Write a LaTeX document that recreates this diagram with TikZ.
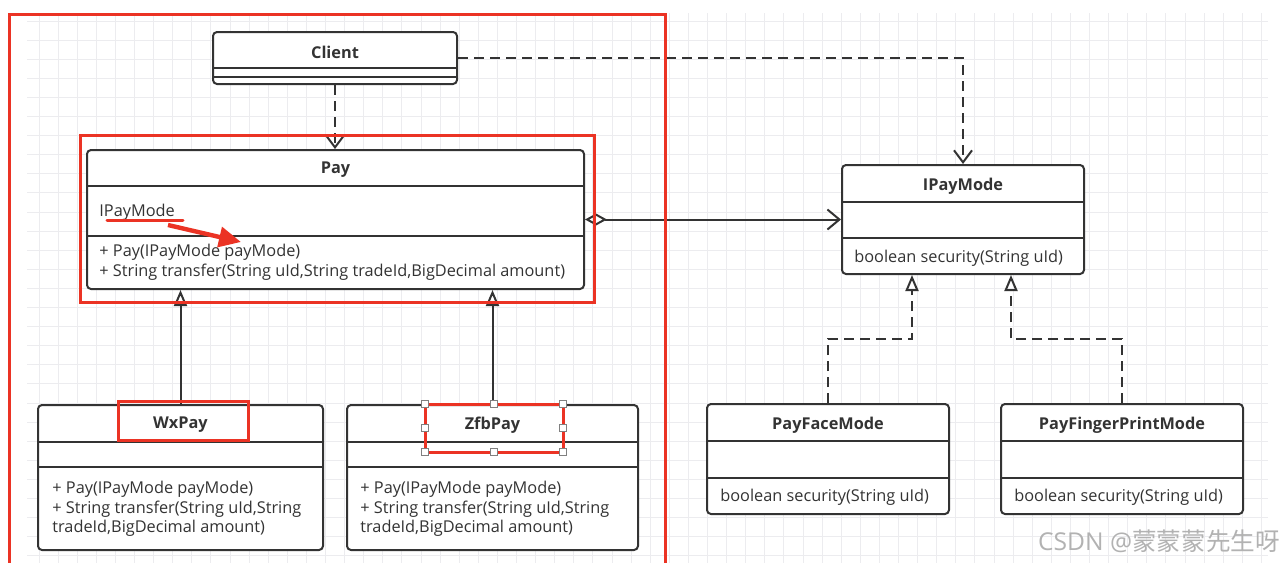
\documentclass[tikz,border=0pt]{standalone}
\usepackage{fontspec}
\setmainfont{Open Sans}
\newfontfamily\cjkfont{Noto Sans CJK SC}
\usetikzlibrary{arrows.meta}
\definecolor{umlline}{HTML}{333333}
\definecolor{redmark}{RGB}{235,51,36}
\definecolor{gridc}{HTML}{ECECEF}
\newcommand{\umlfont}{\fontsize{8.15}{9.8}\selectfont}
\tikzstyle{umlclass}=[draw=umlline, line width=1pt, rounded corners=2pt, fill=white, inner sep=0pt]
\tikzstyle{divider}=[draw=umlline, line width=1pt]
\tikzstyle{classname}=[font=\umlfont\bfseries, text=umlline, inner sep=0pt]
\tikzstyle{member}=[font=\umlfont, text=umlline, anchor=west, align=left, inner sep=0pt]
\tikzstyle{depend}=[draw=umlline, line width=1pt, dash pattern=on 5pt off 3pt, -{Straight Barb[length=6pt,width=9pt]}]
\tikzstyle{realize}=[draw=umlline, line width=1pt, dash pattern=on 5pt off 3pt, -{Triangle[open,length=8pt,width=6.5pt]}]
\tikzstyle{inherit}=[draw=umlline, line width=1pt, -{Triangle[open,length=8pt,width=6.5pt]}]
\tikzstyle{aggreg}=[draw=umlline, line width=1pt, {Diamond[open,length=11pt,width=6pt]}-{Straight Barb[length=6pt,width=10pt]}]
\tikzstyle{redbox}=[draw=redmark, line width=1.5pt]
\tikzstyle{handle}=[draw=gray, fill=white, line width=0.4pt, minimum size=3.5pt, inner sep=0pt]
\tikzstyle{gridline}=[draw=gridc, line width=0.5pt]
\newcommand{\umlbox}{\node[umlclass]}

\begin{document}
\begin{tikzpicture}[x=0.5pt, y=-0.5pt]
\useasboundingbox (0,0) rectangle (1282,563);
\fill[white] (0,0) rectangle (1282,563);
% grid paper
\foreach \gx in {0,...,64}
  \draw[gridline] ({39+19.1*\gx},13) -- ({39+19.1*\gx},563);
\foreach \gy in {0,...,28}
  \draw[gridline] (27,{21+19.1*\gy}) -- (1268,{21+19.1*\gy});

% classes
\umlbox[minimum width=122pt, minimum height=26pt] (client) at (335,58) {};
\umlbox[minimum width=248.5pt, minimum height=69.5pt] (pay) at (335.5,219.5) {};
\umlbox[minimum width=121pt, minimum height=54.5pt] (ipaymode) at (963,219.5) {};
\umlbox[minimum width=142.5pt, minimum height=72.5pt] (wxpay) at (180.5,477.5) {};
\umlbox[minimum width=145.5pt, minimum height=72.5pt] (zfbpay) at (492.5,477.5) {};
\umlbox[minimum width=121pt, minimum height=55pt] (payface) at (828,459) {};
\umlbox[minimum width=121pt, minimum height=55pt] (payfinger) at (1122,459) {};

% compartments
\draw[divider] (client.west |- 0,68) -- (client.east |- 0,68);
\draw[divider] (client.west |- 0,76.5) -- (client.east |- 0,76.5);
\draw[divider] (pay.west |- 0,186) -- (pay.east |- 0,186);
\draw[divider] (pay.west |- 0,236) -- (pay.east |- 0,236);
\draw[divider] (ipaymode.west |- 0,202) -- (ipaymode.east |- 0,202);
\draw[divider] (ipaymode.west |- 0,238) -- (ipaymode.east |- 0,238);
\draw[divider] (wxpay.west |- 0,442) -- (wxpay.east |- 0,442);
\draw[divider] (wxpay.west |- 0,467) -- (wxpay.east |- 0,467);
\draw[divider] (zfbpay.west |- 0,442) -- (zfbpay.east |- 0,442);
\draw[divider] (zfbpay.west |- 0,467) -- (zfbpay.east |- 0,467);
\draw[divider] (payface.west |- 0,441) -- (payface.east |- 0,441);
\draw[divider] (payface.west |- 0,478) -- (payface.east |- 0,478);
\draw[divider] (payfinger.west |- 0,441) -- (payfinger.east |- 0,441);
\draw[divider] (payfinger.west |- 0,478) -- (payfinger.east |- 0,478);

% names and members
\node[classname] (clientname) at (335,52) {Client};
\node[classname] (payname) at (335.5,170) {Pay};
\node[member] (payfield) at (99,212) {IPayMode};
\node[member] (paymeth) at (99,262) {+ Pay(IPayMode payMode)\\+ String transfer(String uId,String tradeId,BigDecimal amount)};
\node[classname] (ipayname) at (963,186) {IPayMode};
\node[member] (ipaymeth) at (854,258) {boolean security(String uId)};
\node[classname] (wxname) at (180.5,425) {WxPay};
\node[member] (wxmeth) at (52,509) {+ Pay(IPayMode payMode)\\+ String transfer(String uId,String\\tradeId,BigDecimal amount)};
\node[classname] (zfbname) at (492.5,425) {ZfbPay};
\node[member] (zfbmeth) at (360,509) {+ Pay(IPayMode payMode)\\+ String transfer(String uId,String\\tradeId,BigDecimal amount)};
\node[classname] (facename) at (828,425) {PayFaceMode};
\node[member] (facemeth) at (720,497) {boolean security(String uId)};
\node[classname] (fingername) at (1122,425) {PayFingerPrintMode};
\node[member] (fingermeth) at (1014,497) {boolean security(String uId)};

% relations
\coordinate (faceknee) at (912,339);
\coordinate (fingerknee) at (1011,339);
\draw[depend] (client.south) -- (client.south |- pay.north);
\draw[depend] (client.east) -| (ipaymode.north);
\draw[aggreg] (pay.east) -- (ipaymode.west);
\draw[inherit] (wxpay.north) -- (wxpay.north |- pay.south);
\draw[inherit] (zfbpay.north) -- (zfbpay.north |- pay.south);
\draw[realize] (payface.north) |- (faceknee) -- (faceknee |- ipaymode.south);
\draw[realize] (payfinger.north) |- (fingerknee) -- (fingerknee |- ipaymode.south);

% red marks
\draw[redbox] (9,570) -- (9,14) -- (665,14) -- (665,570);
\draw[redbox] (80,135) rectangle (594,302);
\draw[redbox] (118,401) rectangle (248,440);
\draw[redbox] (425,404) rectangle (563,452);
\draw[redmark, line width=1.5pt, line cap=round] (107,220) -- (183,220);
\draw[redmark, line width=2.2pt, -{Triangle[length=11pt,width=10pt]}] (168,225) -- (241,242);
\foreach \hx/\hy [count=\hi] in {425/404,494/404,563/404,425/428,563/428,425/452,494/452,563/452}
  \node[handle] (h\hi) at (\hx,\hy) {};

\node[font=\fontsize{12.3}{13}\selectfont, text=black!30] (wm) at (1159,541) {CSDN @{\cjkfont 蒙蒙蒙先生呀}};
\end{tikzpicture}
\end{document}
